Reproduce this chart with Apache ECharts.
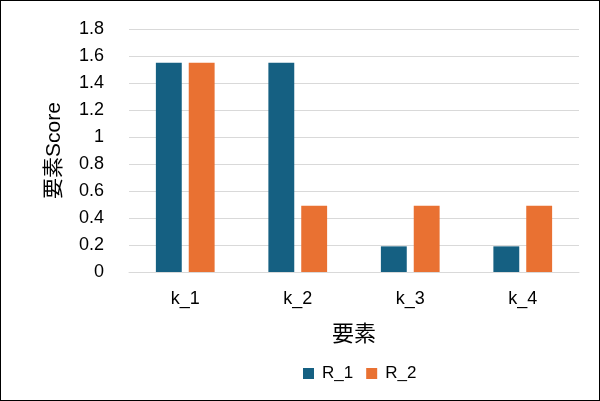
<!DOCTYPE html>
<html>
<head>
<meta charset="utf-8">
<script src="https://cdn.jsdelivr.net/npm/echarts@6/dist/echarts.min.js"></script>
<style>
  html, body { margin: 0; padding: 0; background: #fff; }
  #main { width: 598px; height: 399px; border: 1px solid #000; }
</style>
</head>
<body>
<div id="main"></div>
<script>
const categories = ['k_1', 'k_2', 'k_3', 'k_4']
const r1Values = [1.55, 1.55, 0.19, 0.19]
const r2Values = [1.55, 0.49, 0.49, 0.49]
const yTicks = { min: 0, max: 1.8, interval: 0.2 }

const font = '"Liberation Sans", "Noto Sans CJK JP", sans-serif'
const chart = echarts.init(document.getElementById('main'))
chart.setOption({
  animation: false,
  textStyle: { fontFamily: font },
  grid: { left: 128, right: 20, top: 28, bottom: 128 },
  legend: {
    left: 297,
    top: 359,
    icon: 'rect',
    itemWidth: 11,
    itemHeight: 11,
    itemGap: 13,
    textStyle: { fontSize: 17, color: '#000', fontFamily: font, padding: [0, 0, 0, 3] }
  },
  xAxis: {
    type: 'category',
    data: categories,
    name: '要素',
    nameLocation: 'middle',
    nameGap: 52,
    nameTextStyle: { fontSize: 22, color: '#000', fontFamily: font },
    axisLine: { lineStyle: { color: '#d9d9d9' } },
    axisTick: { show: false },
    axisLabel: { fontSize: 18, color: '#000', margin: 18 }
  },
  yAxis: {
    type: 'value',
    min: yTicks.min,
    max: yTicks.max,
    interval: yTicks.interval,
    name: '要素Score',
    nameLocation: 'middle',
    nameGap: 64,
    nameTextStyle: { fontSize: 21, color: '#000', fontFamily: font },
    axisLabel: {
      fontSize: 18,
      color: '#000',
      margin: 25,
      formatter: v => String(Math.round(v * 10) / 10)
    },
    splitLine: { lineStyle: { color: '#d9d9d9', width: 1 } }
  },
  series: [
    {
      name: 'R_1',
      type: 'bar',
      data: r1Values,
      barWidth: '23%',
      barGap: '27%',
      itemStyle: { color: '#156082' }
    },
    {
      name: 'R_2',
      type: 'bar',
      data: r2Values,
      barWidth: '23%',
      itemStyle: { color: '#E97132' }
    }
  ]
})
</script>
</body>
</html>
